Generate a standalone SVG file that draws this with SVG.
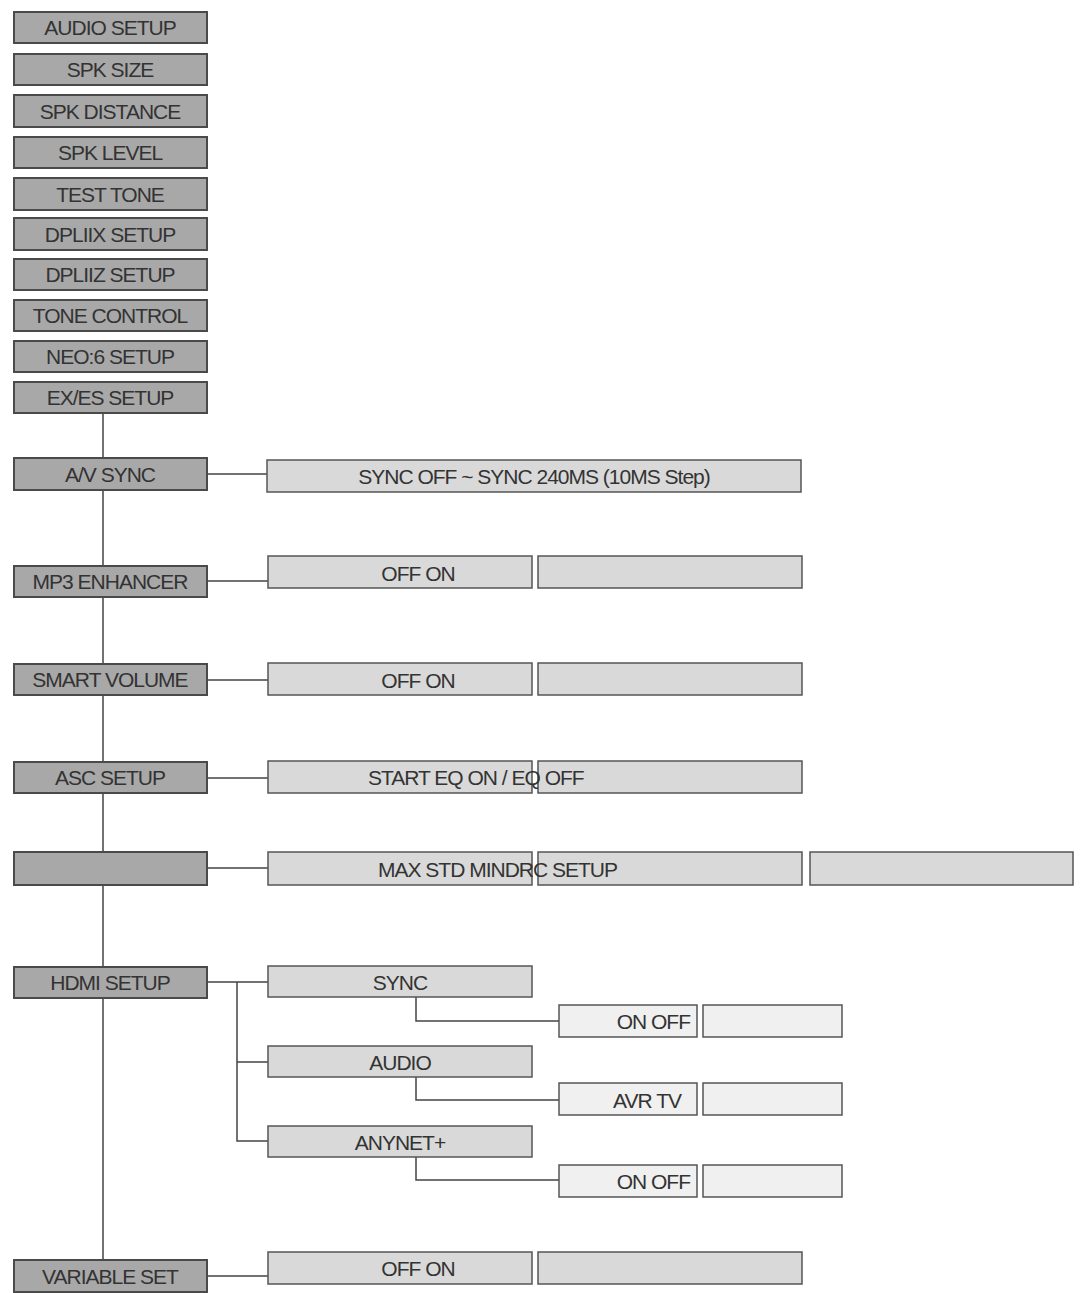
<svg xmlns="http://www.w3.org/2000/svg" width="1082" height="1293" viewBox="0 0 1082 1293">
<style>
.l{fill:#a8a8a8;stroke:#4a4a4a;stroke-width:2}
.m{fill:#d9d9d9;stroke:#555;stroke-width:1.5}
.s{fill:#f0f0f0;stroke:#555;stroke-width:1.5}
text{font-family:"Liberation Sans",Arial,sans-serif;font-size:21px;fill:#333;letter-spacing:-1px}
.c{text-anchor:middle}
.w{fill:none;stroke:#444;stroke-width:1.5}
</style>
<rect width="1082" height="1293" fill="#fff"/>
<g id="connectors">
<path class="w" d="M103 413V1260M207 474H267M207 581H268M207 680H268M207 778H268M207 868H268M207 982H268M237 982V1141H268M237 1062H268M416 997V1021H559M416 1077V1100H559M416 1157V1180H559M207 1276H268"/>
</g>
<g id="n1"><rect class="l" x="14" y="12" width="193" height="31"/><text class="c" x="110" y="35">AUDIO SETUP</text></g>
<g id="n2"><rect class="l" x="14" y="54" width="193" height="31"/><text class="c" x="110" y="77">SPK SIZE</text></g>
<g id="n3"><rect class="l" x="14" y="95" width="193" height="32"/><text class="c" x="110" y="119">SPK DISTANCE</text></g>
<g id="n4"><rect class="l" x="14" y="137" width="193" height="31"/><text class="c" x="110" y="160">SPK LEVEL</text></g>
<g id="n5"><rect class="l" x="14" y="178" width="193" height="32"/><text class="c" x="110" y="202">TEST TONE</text></g>
<g id="n6"><rect class="l" x="14" y="218" width="193" height="32"/><text class="c" x="110" y="242">DPLIIX SETUP</text></g>
<g id="n7"><rect class="l" x="14" y="259" width="193" height="31"/><text class="c" x="110" y="282">DPLIIZ SETUP</text></g>
<g id="n8"><rect class="l" x="14" y="300" width="193" height="31"/><text class="c" x="110" y="323">TONE CONTROL</text></g>
<g id="n9"><rect class="l" x="14" y="341" width="193" height="31"/><text class="c" x="110" y="364">NEO:6 SETUP</text></g>
<g id="n10"><rect class="l" x="14" y="382" width="193" height="31"/><text class="c" x="110" y="405">EX/ES SETUP</text></g>
<g id="n11"><rect class="l" x="14" y="458" width="193" height="32"/><text class="c" x="110" y="482">A/V SYNC</text></g>
<g id="n12"><rect class="l" x="14" y="566" width="193" height="31"/><text class="c" x="110" y="589">MP3 ENHANCER</text></g>
<g id="n13"><rect class="l" x="14" y="664" width="193" height="31"/><text class="c" x="110" y="687">SMART VOLUME</text></g>
<g id="n14"><rect class="l" x="14" y="762" width="193" height="31"/><text class="c" x="110" y="785">ASC SETUP</text></g>
<g id="n15"><rect class="l" x="14" y="852" width="193" height="33"/></g>
<g id="n16"><rect class="l" x="14" y="967" width="193" height="31"/><text class="c" x="110" y="990">HDMI SETUP</text></g>
<g id="n17"><rect class="l" x="14" y="1260" width="193" height="32"/><text class="c" x="110" y="1284">VARIABLE SET</text></g>
<g id="avs"><rect class="m" x="267" y="460" width="534" height="32"/><text class="c" x="534" y="484">SYNC OFF ~ SYNC 240MS (10MS Step)</text></g>
<g id="mp3a"><rect class="m" x="268" y="556" width="264" height="32"/><text class="c" x="418" y="581">OFF ON</text></g>
<g id="mp3b"><rect class="m" x="538" y="556" width="264" height="32"/></g>
<g id="sva"><rect class="m" x="268" y="663" width="264" height="32"/><text class="c" x="418" y="688">OFF ON</text></g>
<g id="svb"><rect class="m" x="538" y="663" width="264" height="32"/></g>
<g id="asca"><rect class="m" x="268" y="761" width="264" height="32"/></g>
<g id="ascb"><rect class="m" x="538" y="761" width="264" height="32"/></g>
<text x="368" y="785">START EQ ON / EQ OFF</text>
<g id="drca"><rect class="m" x="268" y="852" width="264" height="33"/></g>
<g id="drcb"><rect class="m" x="538" y="852" width="264" height="33"/></g>
<g id="drcc"><rect class="m" x="810" y="852" width="263" height="33"/></g>
<text x="378" y="877">MAX STD MINDRC SETUP</text>
<g id="sync"><rect class="m" x="268" y="966" width="264" height="31"/><text class="c" x="400" y="990">SYNC</text></g>
<g id="synca"><rect class="s" x="559" y="1005" width="138" height="32"/><text x="690" y="1029" text-anchor="end">ON OFF</text></g>
<g id="syncb"><rect class="s" x="703" y="1005" width="139" height="32"/></g>
<g id="audio"><rect class="m" x="268" y="1046" width="264" height="31"/><text class="c" x="400" y="1070">AUDIO</text></g>
<g id="audioa"><rect class="s" x="559" y="1083" width="138" height="32"/><text x="681" y="1108" text-anchor="end">AVR TV</text></g>
<g id="audiob"><rect class="s" x="703" y="1083" width="139" height="32"/></g>
<g id="anynet"><rect class="m" x="268" y="1126" width="264" height="31"/><text class="c" x="400" y="1150">ANYNET+</text></g>
<g id="anyneta"><rect class="s" x="559" y="1165" width="138" height="32"/><text x="690" y="1189" text-anchor="end">ON OFF</text></g>
<g id="anynetb"><rect class="s" x="703" y="1165" width="139" height="32"/></g>
<g id="vara"><rect class="m" x="268" y="1252" width="264" height="32"/><text class="c" x="418" y="1276">OFF ON</text></g>
<g id="varb"><rect class="m" x="538" y="1252" width="264" height="32"/></g>
</svg>
